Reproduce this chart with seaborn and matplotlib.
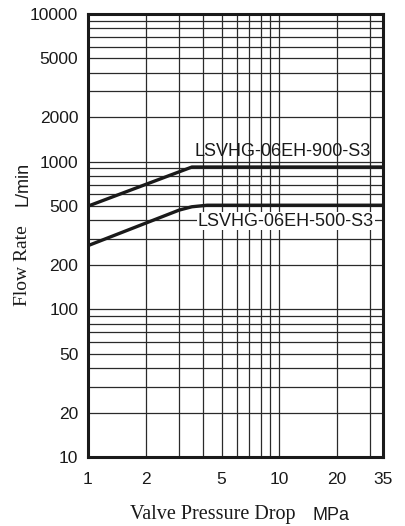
import matplotlib
matplotlib.use("Agg")
import matplotlib.pyplot as plt
import seaborn as sns
import pandas as pd
from matplotlib.ticker import FixedLocator

# Data
x_900 = [1.0, 3.5, 35.0]
y_900 = [500, 920, 920]
x_500 = [1.0, 3.0, 3.5, 4.2, 35.0]
y_500 = [270, 470, 495, 507, 507]
series_names = ["LSVHG-06EH-900-S3", "LSVHG-06EH-500-S3"]
x_ticks = [1, 2, 5, 10, 20, 35]
y_ticks = [10, 20, 50, 100, 200, 500, 1000, 2000, 5000, 10000]

df = pd.concat([
    pd.DataFrame({"x": x_900, "y": y_900, "model": series_names[0]}),
    pd.DataFrame({"x": x_500, "y": y_500, "model": series_names[1]}),
])

sns.set_style("white")
plt.rcParams['font.family'] = ['Liberation Sans', 'DejaVu Sans']

W, H = 406, 526
fig = plt.figure(figsize=(W / 100, H / 100), dpi=100)
ax = fig.add_axes([88 / W, 1 - 457 / H, (383 - 88) / W, (457 - 14) / H])

ax.set_xscale("log")
ax.set_yscale("log")
ax.set_xlim(1, 35)
ax.set_ylim(10, 10000)

# grid
xgrid = [2, 3, 4, 5, 6, 7, 8, 9, 10, 20, 30]
ygrid = [m * 10**e for e in range(1, 4) for m in range(1, 10)]
for gx in xgrid:
    ax.axvline(gx, color="#2a2a2a", lw=0.9, zorder=1)
for gy in ygrid:
    if 10 < gy < 10000:
        ax.axhline(gy, color="#2a2a2a", lw=0.9, zorder=1)

sns.lineplot(data=df, x="x", y="y", hue="model", units="model", estimator=None,
             palette=["#1a1a1a", "#1a1a1a"], linewidth=2.4, legend=False, ax=ax,
             sort=False, zorder=3)

ax.xaxis.set_major_locator(FixedLocator(x_ticks))
ax.xaxis.set_minor_locator(FixedLocator([]))
ax.set_xticklabels([str(t) for t in x_ticks])
ax.yaxis.set_major_locator(FixedLocator(y_ticks))
ax.yaxis.set_minor_locator(FixedLocator([]))
ax.set_yticklabels([str(t) for t in y_ticks])
ax.tick_params(axis="both", length=0, labelsize=12.5, colors="#1a1a1a")
ax.tick_params(axis="y", pad=7)
ax.tick_params(axis="x", pad=11)
ax.set_xlabel("")
ax.set_ylabel("")

for s in ax.spines.values():
    s.set_linewidth(2.2)
    s.set_color("#1a1a1a")
    s.set_visible(True)

# series labels (positioned in figure pixels)
fig.text(283 / W, 1 - 151 / H, series_names[0], ha="center", va="center",
         fontsize=13, color="#1a1a1a", zorder=4)
fig.text(286 / W, 1 - 221 / H, series_names[1], ha="center", va="center",
         fontsize=13, color="#1a1a1a", zorder=4,
         bbox=dict(boxstyle="square,pad=0.05", fc="white", ec="none"))

# axis titles
fig.text(130 / W, 1 - 515 / H, "Valve Pressure Drop", fontsize=14.5,
         family="Liberation Serif", ha="left", va="center", color="#1a1a1a")
fig.text(313 / W, 1 - 515 / H, "MPa", fontsize=13, ha="left", va="center",
         color="#1a1a1a")
fig.text(23 / W, 1 - 266 / H, "Flow Rate", fontsize=14, rotation=90,
         family="Liberation Serif", ha="center", va="center", color="#1a1a1a")
fig.text(23 / W, 1 - 184 / H, "L/min", fontsize=13, rotation=90, ha="center",
         va="center", color="#1a1a1a")

fig.savefig("out.png", dpi=100)
